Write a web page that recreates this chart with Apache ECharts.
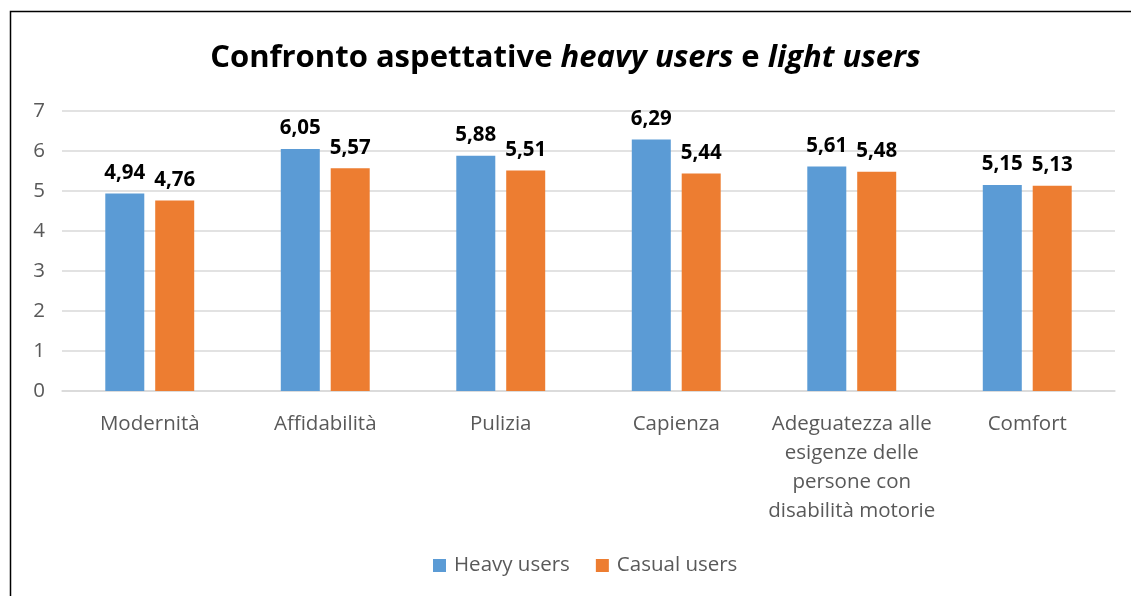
<!DOCTYPE html>
<html><head><meta charset="utf-8">
<script src="https://cdn.jsdelivr.net/npm/echarts@6/dist/echarts.min.js"></script>
<style>html,body{margin:0;padding:0;background:#fff}#c{width:1131px;height:596px}</style>
</head><body><div id="c"></div>
<script>
const categories = ['Modernità','Affidabilità','Pulizia','Capienza','Adeguatezza alle\nesigenze delle\npersone con\ndisabilità motorie','Comfort'];
const heavyUsers = [4.94, 6.05, 5.88, 6.29, 5.61, 5.15];
const casualUsers = [4.76, 5.57, 5.51, 5.44, 5.48, 5.13];
const seriesNames = ['Heavy users','Casual users'];
const yTicks = [0,1,2,3,4,5,6,7];

const FONT = 'Open Sans';
const chart = echarts.init(document.getElementById('c'));
const lbl = {show:true, position:'top', distance:10, color:'#000', fontWeight:'bold', fontSize:20.5, fontFamily:FONT,
  formatter: p => p.value.toFixed(2).replace('.', ',')};
chart.setOption({
  animation:false,
  title:{left:'center', top:38, text:'{b|Confronto aspettative }{i|heavy users}{b| e }{i|light users}',
    textStyle:{rich:{
      b:{fontSize:31, fontWeight:'bold', fontFamily:FONT, color:'#000'},
      i:{fontSize:31, fontWeight:'bold', fontStyle:'italic', fontFamily:FONT, color:'#000'}}}},
  graphic:[{type:'rect', shape:{x:10.5, y:11.5, width:1300, height:800}, style:{fill:'none', stroke:'#000', lineWidth:1.5}, silent:true}],
  legend:{bottom:15, left:428, itemWidth:13, itemHeight:13, itemGap:26, icon:'rect',
    textStyle:{fontSize:20.5, color:'#595959', fontFamily:FONT, padding:[0,0,0,3]}, data:seriesNames},
  grid:{left:62, right:16, top:111, bottom:205, containLabel:false},
  xAxis:{type:'category', data:categories, axisTick:{show:false},
    axisLine:{lineStyle:{color:'#d9d9d9', width:1.5}},
    axisLabel:{color:'#595959', fontSize:20.5, fontFamily:FONT, margin:19, lineHeight:29, interval:0, verticalAlign:'top'}},
  yAxis:{type:'value', min:yTicks[0], max:yTicks[yTicks.length-1], interval:1,
    axisLine:{show:false}, axisTick:{show:false},
    splitLine:{lineStyle:{color:'#d9d9d9', width:1.5}},
    axisLabel:{color:'#595959', fontSize:20.5, fontFamily:FONT, margin:17}},
  series:[
    {name:seriesNames[0], type:'bar', data:heavyUsers, barWidth:39, barGap:'28%', itemStyle:{color:'#5b9bd5'}, label:lbl},
    {name:seriesNames[1], type:'bar', data:casualUsers, barWidth:39, itemStyle:{color:'#ed7d31'}, label:lbl}
  ]
});
</script></body></html>
